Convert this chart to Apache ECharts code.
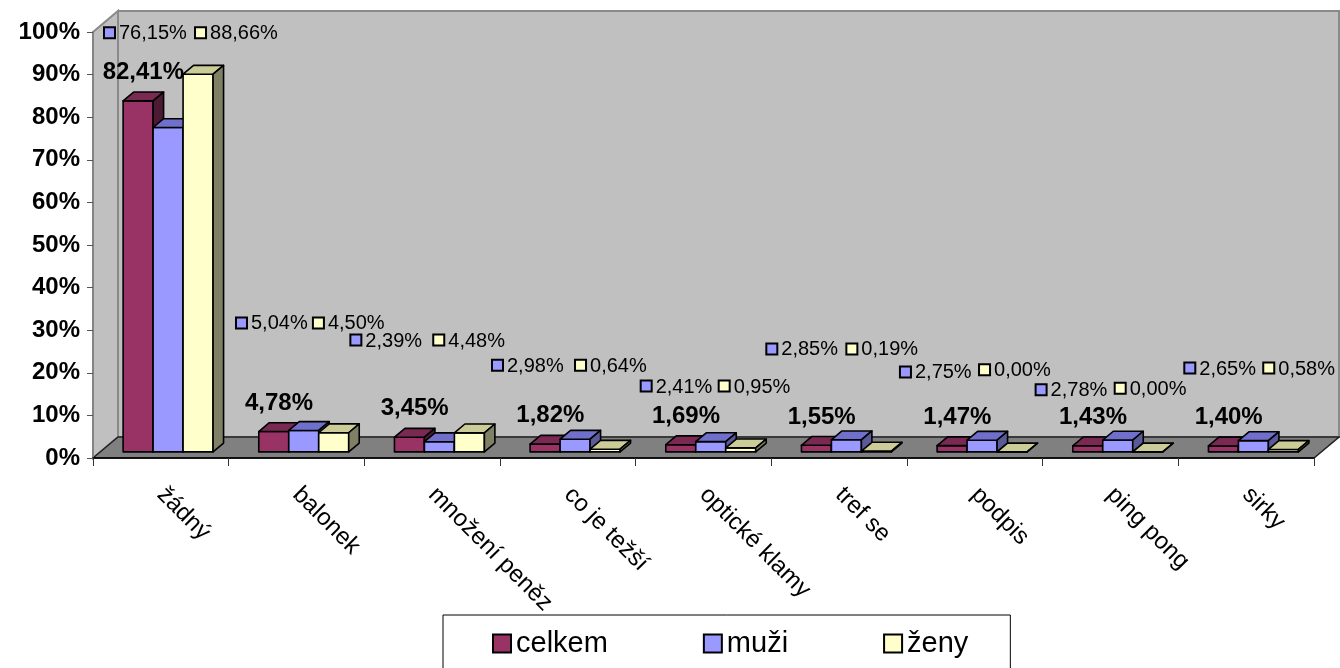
<!DOCTYPE html>
<html><head><meta charset="utf-8">
<script src="https://cdn.jsdelivr.net/npm/echarts@6/dist/echarts.min.js"></script>
<style>html,body{margin:0;padding:0;background:#fff}#c{width:1340px;height:668px}</style>
</head><body><div id="c"></div>
<script>
// ---- data ----
const categories = ['žádný', 'balonek', 'množení peněz', 'co je težší', 'optické klamy', 'tref se', 'podpis', 'ping pong', 'sirky'];
const seriesNames = ['celkem', 'muži', 'ženy'];
const celkem = [82.41, 4.78, 3.45, 1.82, 1.69, 1.55, 1.47, 1.43, 1.40];
const muzi   = [76.15, 5.04, 2.39, 2.98, 2.41, 2.85, 2.75, 2.78, 2.65];
const zeny   = [88.66, 4.50, 4.48, 0.64, 0.95, 0.19, 0.00, 0.00, 0.58];
const yMin = 0, yMax = 100, yStep = 10;

// ---- label layout (where the moved labels of muži / ženy sit) ----
const muziLabelLevel = [99.8, 31.7, 27.7, 21.8, 16.9, 25.6, 20.2, 16.0, 21.1];
const zenyLabelLevel = [99.8, 31.7, 27.7, 21.8, 16.9, 25.6, 20.7, 16.4, 21.1];
const muziLabelShift = [0.081, 0.054, -0.103, -0.059, 0.037, -0.037, -0.052, -0.052, 0.044];
const zenyLabelShift = [0.752, 0.621, 0.508, 0.553, 0.612, 0.553, 0.531, 0.531, 0.626];

// ---- style ----
const FONT = 'Arial, "Liberation Sans", sans-serif';
const DEPTH = { x: 25, y: -21 };   // full floor depth in px
const F0 = 0.29, F1 = 0.71;        // bar depth range (fraction of floor depth)
const BAR_FRAC = 0.221;            // bar width as fraction of category band
const faces = [
  { front: '#993366', top: '#7a2952', side: '#4d1a33' },
  { front: '#9999ff', top: '#7070cc', side: '#5a5a99' },
  { front: '#ffffcc', top: '#cccc99', side: '#808066' }
];

function fmt(v) { return v.toFixed(2).replace('.', ',') + '%'; }

function wallsRender(params, api) {
  const cs = params.coordSys;
  const x = cs.x, y = cs.y, w = cs.width, h = cs.height;
  const dx = DEPTH.x, dy = DEPTH.y;
  return {
    type: 'group',
    children: [
      { type: 'polygon', shape: { points: [[x + dx, y + dy], [x + w + dx, y + dy], [x + w + dx, y + h + dy], [x + dx, y + h + dy]] },
        style: { fill: '#c0c0c0', stroke: '#8a8a8a', lineWidth: 2 } },
      { type: 'polygon', shape: { points: [[x, y], [x + dx, y + dy], [x + dx, y + h + dy], [x, y + h]] },
        style: { fill: '#c0c0c0', stroke: '#8a8a8a', lineWidth: 2 } },
      { type: 'polygon', shape: { points: [[x, y + h], [x + dx, y + h + dy], [x + w + dx, y + h + dy], [x + w, y + h]] },
        style: { fill: '#808080', stroke: '#222', lineWidth: 1.5 } }
    ]
  };
}

function barRender(s) {
  return function (params, api) {
    const i = api.value(0), v = api.value(1);
    const base = api.coord([i, 0]);
    const top = api.coord([i, v]);
    const band = api.size([1, 0])[0];
    const bw = band * BAR_FRAC;
    const fx = base[0] + DEPTH.x * F0 - 1.5 * bw + s * bw;
    const fy0 = base[1] + DEPTH.y * F0;
    const fy1 = top[1] + DEPTH.y * F0;
    const ddx = DEPTH.x * (F1 - F0), ddy = DEPTH.y * (F1 - F0);
    const c = faces[s];
    const st = { stroke: '#000', lineWidth: 1.6, lineJoin: 'round' };
    const children = [
      { type: 'rect', shape: { x: fx, y: fy1, width: bw, height: fy0 - fy1 }, style: Object.assign({ fill: c.front }, st) },
      { type: 'polygon', shape: { points: [[fx, fy1], [fx + ddx, fy1 + ddy], [fx + bw + ddx, fy1 + ddy], [fx + bw, fy1]] }, style: Object.assign({ fill: c.top }, st) },
      { type: 'polygon', shape: { points: [[fx + bw, fy1], [fx + bw + ddx, fy1 + ddy], [fx + bw + ddx, fy0 + ddy], [fx + bw, fy0]] }, style: Object.assign({ fill: c.side }, st) }
    ];
    if (s === 0) {
      children.push({
        type: 'text', z2: 10,
        style: { x: fx + bw / 2 + ddx / 2, y: fy1 + ddy / 2 - 24, text: fmt(v), fill: '#000',
          font: 'bold 24px ' + FONT, align: 'center', verticalAlign: 'middle' }
      });
    } else {
      const level = api.value(2), shift = api.value(3);
      const lx = base[0] - band / 2 + shift * band;
      const ly = api.coord([i, level])[1];
      children.push(
        { type: 'rect', z2: 10, shape: { x: lx, y: ly - 5.5, width: 11, height: 11 },
          style: { fill: c.front, stroke: '#000', lineWidth: 2 } },
        { type: 'text', z2: 10, style: { x: lx + 15, y: ly + 1, text: fmt(v), fill: '#000',
          font: '20px ' + FONT, align: 'left', verticalAlign: 'middle' } }
      );
    }
    return { type: 'group', children: children };
  };
}

const values = [celkem, muzi, zeny];
const levels = [null, muziLabelLevel, zenyLabelLevel];
const shifts = [null, muziLabelShift, zenyLabelShift];

const barSeries = seriesNames.map(function (name, s) {
  return {
    name: name, type: 'custom', coordinateSystem: 'cartesian2d',
    itemStyle: { color: faces[s].front },
    renderItem: barRender(s),
    data: values[s].map(function (v, i) {
      return s === 0 ? [i, v] : [i, v, levels[s][i], shifts[s][i]];
    }),
    encode: { x: 0, y: 1 },
    clip: false, z: 3
  };
});

const chart = echarts.init(document.getElementById('c'), null, { renderer: 'canvas' });
chart.setOption({
  backgroundColor: '#fff',
  animation: false,
  color: faces.map(function (f) { return f.front; }),
  grid: { left: 93, right: 26, top: 32, bottom: 210, containLabel: false },
  xAxis: {
    type: 'category', data: categories, boundaryGap: true,
    axisLine: { show: true, lineStyle: { color: '#000', width: 1.5 } },
    axisTick: { show: true, length: 8, alignWithLabel: false, lineStyle: { color: '#333', width: 1 } },
    axisLabel: { rotate: -45, margin: 33, fontSize: 24, fontFamily: FONT, color: '#000', interval: 0 },
    splitLine: { show: false }, z: 2
  },
  yAxis: {
    type: 'value', min: yMin, max: yMax, interval: yStep,
    axisLine: { show: true, lineStyle: { color: '#808080', width: 1.5 } },
    axisTick: { show: true, length: 6, lineStyle: { color: '#555', width: 1 } },
    axisLabel: { margin: 13, fontSize: 24, fontWeight: 'bold', fontFamily: FONT, color: '#000',
      formatter: function (v) { return v + '%'; } },
    splitLine: { show: false }, z: 2
  },
  legend: {
    data: seriesNames,
    left: 443, top: 615,
    padding: [14, 42, 40, 49],
    itemGap: 95, itemWidth: 18, itemHeight: 18,
    icon: 'rect',
    itemStyle: { borderColor: '#000', borderWidth: 2 },
    textStyle: { fontSize: 29, fontFamily: FONT, color: '#000' },
    borderColor: '#000', borderWidth: 1, backgroundColor: '#fff',
    selectedMode: false
  },
  series: [{
    name: '_walls', type: 'custom', coordinateSystem: 'cartesian2d', silent: true,
    renderItem: wallsRender, data: [[0, 0]], clip: false, z: 1
  }].concat(barSeries)
});
</script>
</body></html>
